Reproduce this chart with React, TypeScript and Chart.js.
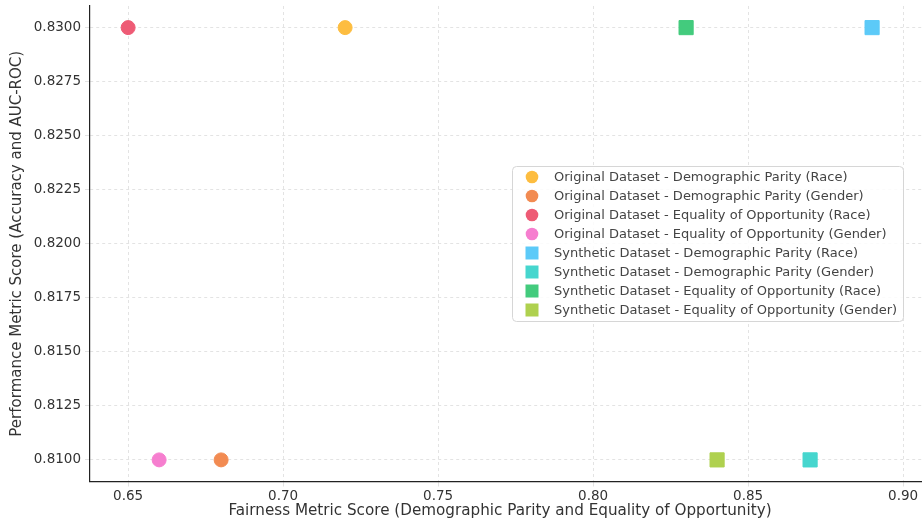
import React, { useEffect, useRef } from "react";
import { Chart, registerables } from "chart.js";

Chart.register(...registerables);

const seriesLabels = [
  "Original Dataset - Demographic Parity (Race)",
  "Original Dataset - Demographic Parity (Gender)",
  "Original Dataset - Equality of Opportunity (Race)",
  "Original Dataset - Equality of Opportunity (Gender)",
  "Synthetic Dataset - Demographic Parity (Race)",
  "Synthetic Dataset - Demographic Parity (Gender)",
  "Synthetic Dataset - Equality of Opportunity (Race)",
  "Synthetic Dataset - Equality of Opportunity (Gender)",
];
const fairnessValues = [0.72, 0.68, 0.65, 0.66, 0.89, 0.87, 0.83, 0.84];
const performanceValues = [0.83, 0.81, 0.83, 0.81, 0.83, 0.81, 0.83, 0.81];
const seriesColors = [
  "#FDBD40",
  "#F28B52",
  "#EE5B75",
  "#F67ECF",
  "#5CCAF8",
  "#46D6CE",
  "#43CB7D",
  "#AFD14F",
];
const seriesShapes = ["circle", "circle", "circle", "circle", "rect", "rect", "rect", "rect"];
const xTickValues = [0.65, 0.7, 0.75, 0.8, 0.85, 0.9];
const yTickValues = [0.81, 0.8125, 0.815, 0.8175, 0.82, 0.8225, 0.825, 0.8275, 0.83];
const xTitle = "Fairness Metric Score (Demographic Parity and Equality of Opportunity)";
const yTitle = "Performance Metric Score (Accuracy and AUC-ROC)";

const FONT = "'DejaVu Sans', sans-serif";

const legendPlugin = {
  id: "customLegend",
  afterDatasetsDraw(chart: any) {
    const ctx = chart.ctx;
    const bx = 512.5, by = 166.5, bw = 391, bh = 155;
    ctx.save();
    ctx.beginPath();
    if (ctx.roundRect) ctx.roundRect(bx, by, bw, bh, 4);
    else ctx.rect(bx, by, bw, bh);
    ctx.fillStyle = "rgba(255,255,255,0.85)";
    ctx.fill();
    ctx.strokeStyle = "#d6d6d6";
    ctx.lineWidth = 1;
    ctx.stroke();
    ctx.font = `13px ${FONT}`;
    ctx.textBaseline = "middle";
    ctx.textAlign = "left";
    chart.data.datasets.forEach((ds: any, i: number) => {
      const cy = 177 + i * 19;
      const cx = 532;
      ctx.fillStyle = ds.backgroundColor;
      ctx.beginPath();
      if (ds.pointStyle === "circle") {
        ctx.arc(cx, cy, 6.3, 0, Math.PI * 2);
      } else {
        ctx.rect(cx - 6.5, cy - 6.5, 13, 13);
      }
      ctx.fill();
      ctx.fillStyle = "#444";
      ctx.fillText(ds.label, 554, cy + 0.5);
    });
    // x-axis title, centred under the visible plot
    ctx.font = `15.2px ${FONT}`;
    ctx.fillStyle = "#333";
    ctx.textAlign = "center";
    ctx.fillText(xTitle, 500, 511);
    ctx.restore();
  },
};

export default function App() {
  const ref = useRef<HTMLCanvasElement | null>(null);
  useEffect(() => {
    if (!ref.current) return;
    const datasets = seriesLabels.map((label, i) => ({
      label,
      data: [{ x: fairnessValues[i], y: performanceValues[i] }],
      backgroundColor: seriesColors[i],
      borderColor: seriesColors[i],
      borderWidth: 1,
      pointStyle: seriesShapes[i],
      pointRadius: seriesShapes[i] === "circle" ? 7 : 10,
      pointHoverRadius: seriesShapes[i] === "circle" ? 7 : 10,
    }));
    const chart = new Chart(ref.current, {
      type: "scatter",
      data: { datasets },
      plugins: [legendPlugin],
      options: {
        responsive: false,
        animation: false,
        devicePixelRatio: 1,
        layout: { autoPadding: false, padding: { top: 6, right: 0, left: 0, bottom: 0 } },
        plugins: { legend: { display: false }, tooltip: { enabled: false } },
        scales: {
          x: {
            type: "linear",
            min: 0.6377,
            max: 0.9061,
            afterBuildTicks: (s: any) => {
              s.ticks = xTickValues.map((v) => ({ value: v }));
            },
            afterFit: (s: any) => {
              s.height = 41.5;
              s.paddingLeft = 0;
              s.paddingRight = 0;
            },
            ticks: {
              color: "#333",
              font: { family: FONT, size: 13.5 },
              padding: 2,
              maxRotation: 0,
              callback: (v: any) => Number(v).toFixed(2),
            },
            grid: { color: "#dcdcdc", tickLength: 5, lineWidth: 0.8 },
            border: { display: true, color: "#222", width: 1.2, dash: [3, 3] },
            title: { display: false, text: xTitle },
          },
          y: {
            type: "linear",
            min: 0.809,
            max: 0.831,
            afterBuildTicks: (s: any) => {
              s.ticks = yTickValues.map((v) => ({ value: v }));
            },
            afterFit: (s: any) => {
              s.width = 90;
              s.paddingTop = 0;
              s.paddingBottom = 0;
            },
            ticks: {
              color: "#333",
              font: { family: FONT, size: 13.5 },
              padding: 4,
              callback: (v: any) => Number(v).toFixed(4),
            },
            grid: { color: "#dcdcdc", tickLength: 5, lineWidth: 0.8 },
            border: { display: true, color: "#222", width: 1.2, dash: [3, 3] },
            title: {
              display: true,
              text: yTitle,
              color: "#333",
              font: { family: FONT, size: 15 },
              padding: { top: 8, bottom: 0 },
            },
          },
        },
      },
    } as any);
    return () => chart.destroy();
  }, []);
  return (
    <div style={{ position: "absolute", left: 0, top: 0, width: 922, height: 523, background: "#fff" }}>
      <canvas ref={ref} width={922} height={523} style={{ width: 922, height: 523 }} />
    </div>
  );
}
